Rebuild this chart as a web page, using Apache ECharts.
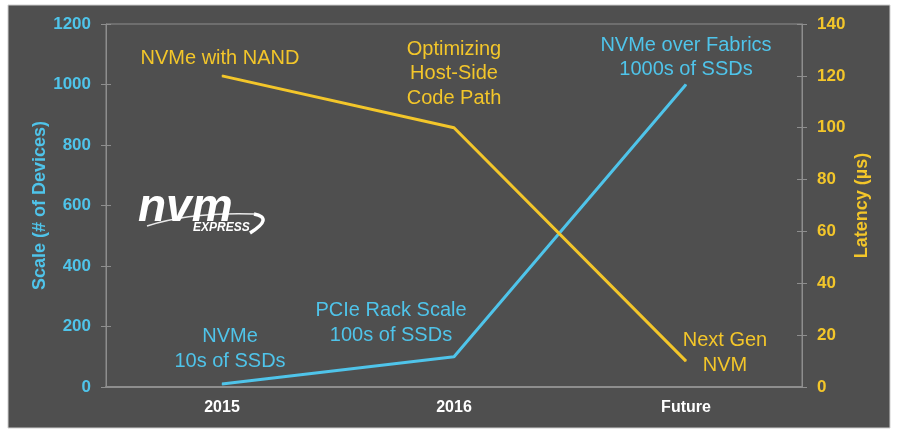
<!DOCTYPE html>
<html><head><meta charset="utf-8">
<script src="https://cdn.jsdelivr.net/npm/echarts@6/dist/echarts.min.js"></script>
<style>html,body{margin:0;padding:0;background:#fff}#c{width:900px;height:437px}</style>
</head><body><div id="c"></div>
<script>
const categories = ['2015', '2016', 'Future'];
const scaleValues = [10, 100, 1000];
const latencyValues = [120, 100, 10];
const scaleNotes = ['NVMe\n10s of SSDs', 'PCIe Rack Scale\n100s of SSDs', 'NVMe over Fabrics\n1000s of SSDs'];
const latencyNotes = ['NVMe with NAND', 'Optimizing\nHost-Side\nCode Path', 'Next Gen\nNVM'];
const scaleNoteOffsets = [[8, -35], [-63, -34], [0, -27]];
const latencyNoteOffsets = [[-2, -17], [0, -54], [39, -8]];

const CYAN = '#4fc4ea', YELLOW = '#f3c62a', GRAY = '#8e8e8e', FONT = '"Liberation Sans", Arial, sans-serif';
const chart = echarts.init(document.getElementById('c'));

function noteData(vals, notes, offs, color) {
  return vals.map((v, i) => ({
    value: v,
    label: {
      show: true, position: 'inside', offset: offs[i], formatter: notes[i],
      color: color, fontSize: 20, fontFamily: FONT, lineHeight: 24.5, align: 'center', verticalAlign: 'middle'
    }
  }));
}

const tickAxis = (pos, max, interval) => ({
  type: 'value', position: pos, min: 0, max: max, interval: interval,
  axisLine: { show: false }, axisLabel: { show: false }, splitLine: { show: false },
  axisTick: { show: true, inside: true, length: 5, lineStyle: { color: GRAY } }
});

chart.setOption({
  backgroundColor: '#ffffff',
  animation: false,
  graphic: [
    { type: 'rect', z: -10, shape: { x: 8, y: 5, width: 882, height: 423 }, style: { fill: '#4f4f4f', stroke: '#cfcfcf', lineWidth: 1 } },
    { type: 'bezierCurve', shape: { x1: 147, y1: 226, cpx1: 190, cpy1: 212, x2: 254, y2: 214 }, style: { stroke: '#e8e8e8', lineWidth: 1.5, fill: null } },
    { type: 'bezierCurve', shape: { x1: 254, y1: 214, cpx1: 274, cpy1: 218, x2: 250, y2: 233 }, style: { stroke: '#ffffff', lineWidth: 3.5, fill: null } },
    { type: 'text', left: 138, top: 185, style: { text: 'nvm', fill: '#ffffff', font: 'italic bold 46px "Liberation Sans", Arial, sans-serif' } },
    { type: 'text', left: 193, top: 222, style: { text: 'EXPRESS', fill: '#ffffff', font: 'italic bold 12px "Liberation Sans", Arial, sans-serif' } }
  ],
  grid: { left: 106, right: 98, top: 24, bottom: 50, show: true, borderColor: GRAY, borderWidth: 1 },
  xAxis: {
    type: 'category', data: categories, boundaryGap: true,
    axisLine: { lineStyle: { color: GRAY, width: 2 } }, axisTick: { show: false },
    axisLabel: { color: '#ffffff', fontWeight: 'bold', fontSize: 16, fontFamily: FONT, margin: 13 }
  },
  yAxis: [
    {
      type: 'value', position: 'left', min: 0, max: 1200, interval: 200,
      name: 'Scale (# of Devices)', nameLocation: 'middle', nameRotate: 90, nameGap: 57, nameMoveOverlap: false,
      nameTextStyle: { color: CYAN, fontWeight: 'bold', fontSize: 18, fontFamily: FONT },
      axisLine: { show: true, lineStyle: { color: GRAY } },
      axisTick: { show: true, length: 5, lineStyle: { color: GRAY } },
      axisLabel: { color: CYAN, fontWeight: 'bold', fontSize: 17, fontFamily: FONT, margin: 15, formatter: v => String(v) },
      splitLine: { show: false }
    },
    {
      type: 'value', position: 'right', min: 0, max: 140, interval: 20,
      name: 'Latency (µs)', nameLocation: 'middle', nameRotate: 90, nameGap: 51, nameMoveOverlap: false,
      nameTextStyle: { color: YELLOW, fontWeight: 'bold', fontSize: 18, fontFamily: FONT },
      axisLine: { show: true, lineStyle: { color: GRAY } },
      axisTick: { show: true, length: 5, lineStyle: { color: GRAY } },
      axisLabel: { color: YELLOW, fontWeight: 'bold', fontSize: 17, fontFamily: FONT, margin: 15, formatter: v => String(v) },
      splitLine: { show: false }
    },
    tickAxis('left', 1200, 200),
    tickAxis('right', 140, 20)
  ],
  series: [
    {
      type: 'line', yAxisIndex: 0, data: noteData(scaleValues, scaleNotes, scaleNoteOffsets, CYAN),
      symbol: 'circle', symbolSize: 1, itemStyle: { color: CYAN },
      lineStyle: { color: CYAN, width: 3 }, z: 3
    },
    {
      type: 'line', yAxisIndex: 1, data: noteData(latencyValues, latencyNotes, latencyNoteOffsets, YELLOW),
      symbol: 'circle', symbolSize: 1, itemStyle: { color: YELLOW },
      lineStyle: { color: YELLOW, width: 3 }, z: 3
    }
  ]
});
</script></body></html>
